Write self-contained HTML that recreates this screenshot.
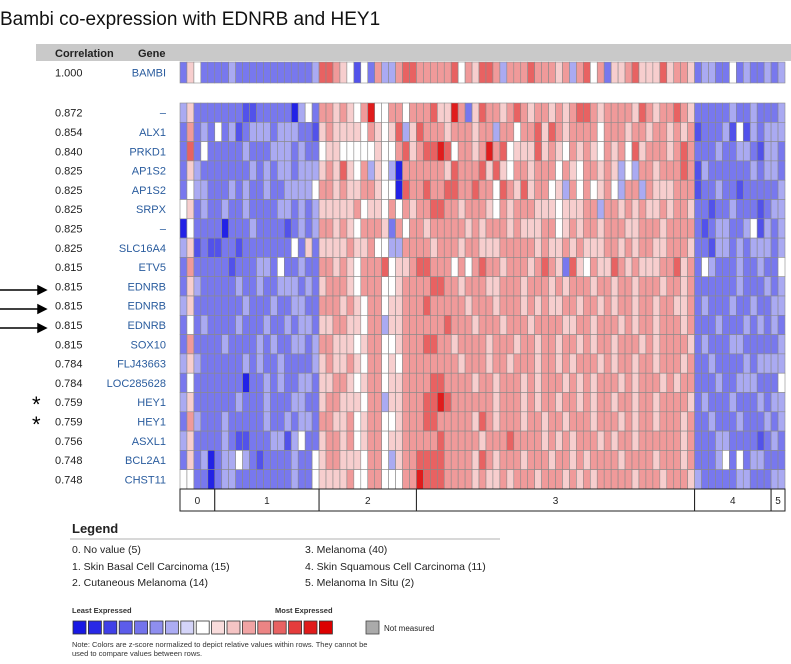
<!DOCTYPE html>
<html><head><meta charset="utf-8"><style>
body{margin:0;background:#fff;font-family:"Liberation Sans","DejaVu Sans",sans-serif}
svg text{font-family:"Liberation Sans","DejaVu Sans",sans-serif}
</style></head><body>
<svg id="c" width="791" height="659" xmlns="http://www.w3.org/2000/svg">
<text x="0" y="25" font-size="19" fill="#111">Bambi co-expression with EDNRB and HEY1</text>
<rect x="36" y="44" width="755" height="17" fill="#c9c9c9"/>
<text x="55" y="57" font-size="11" font-weight="bold" fill="#222">Correlation</text>
<text x="138" y="57" font-size="11" font-weight="bold" fill="#222">Gene</text>
<g id="heat"></g>
<g id="labels"></g>
<g id="groups"></g>
<g stroke="#000" stroke-width="1.5" fill="#000">
<line x1="0" y1="290" x2="40" y2="290"/><polygon points="46,290 38,286 38,294"/>
<line x1="0" y1="309" x2="40" y2="309"/><polygon points="46,309 38,305 38,313"/>
<line x1="0" y1="328" x2="40" y2="328"/><polygon points="46,328 38,324 38,332"/>
</g>
<text x="32" y="412" font-size="22">*</text>
<text x="32" y="432" font-size="22">*</text>
<text x="72" y="533" font-size="13" font-weight="bold" fill="#222">Legend</text>
<line x1="70" y1="539" x2="500" y2="539" stroke="#ccc" stroke-width="1.5"/>
<g font-size="10.5" fill="#222">
<text x="72" y="553">0. No value (5)</text>
<text x="72" y="570">1. Skin Basal Cell Carcinoma (15)</text>
<text x="72" y="586">2. Cutaneous Melanoma (14)</text>
<text x="305" y="553">3. Melanoma (40)</text>
<text x="305" y="570">4. Skin Squamous Cell Carcinoma (11)</text>
<text x="305" y="586">5. Melanoma In Situ (2)</text>
</g>
<text x="72" y="613" font-size="7.5" font-weight="bold" fill="#333">Least Expressed</text>
<text x="275" y="613" font-size="7.5" font-weight="bold" fill="#333">Most Expressed</text>
<g id="scale"></g>
<rect x="366" y="621" width="13" height="13" fill="#aaa" stroke="#444" stroke-width="0.8"/>
<text x="384" y="631" font-size="8" fill="#222">Not measured</text>
<text x="72" y="647" font-size="7.5" fill="#333">Note: Colors are z-score normalized to depict relative values within rows. They cannot be</text>
<text x="72" y="656" font-size="7.5" fill="#333">used to compare values between rows.</text>
</svg>
<script>
const corr=["1.000","0.872","0.854","0.840","0.825","0.825","0.825","0.825","0.825","0.815","0.815","0.815","0.815","0.815","0.784","0.784","0.759","0.759","0.756","0.748","0.748"];
const genes=["BAMBI","–","ALX1","PRKD1","AP1S2","AP1S2","SRPX","–","SLC16A4","ETV5","EDNRB","EDNRB","EDNRB","SOX10","FLJ43663","LOC285628","HEY1","HEY1","ASXL1","BCL2A1","CHST11"];
const groupNames=["0","1","2","3","4","5"];
const groupSizes=[5,15,14,40,11,2];
const values=[
"25422|223222222222223|77654142633677|66666746577636667666|56367462556755575665|23322423223|23",
"35222|222211222220342|66565468446646|66755862576656765665|65677656666576566765|22222322322|23",
"26232|423123332333221|56555546545735|76665666566366466757|65666646665665665656|12223141323|33",
"27242|222232223332322|45544444544675|67787466568674555756|54656546564756665676|22232233213|32",
"25322|222223232332333|56575463543066|66665766675754665666|46546656534366566676|13222222323|32",
"24332|223232232233334|66565566544076|67667766766476575664|53646456436636555666|12232212222|23",
"45232|232232222332323|55555645546465|66776656665465666555|45556636656565565665|22122322212|33",
"04222|202223222212323|66565466652646|65666665656665655566|45656656665566656666|21233223413|23",
"35121|122122222224252|55556556443366|66566656655566666565|56565556656566556665|22133232333|23",
"26222|221222332422322|66565466674556|77666464676656665676|52754655765655566756|24322232232|24",
"25322|222322322333232|56665466644566|66776656665566656665|65666566566566656656|22222232223|23",
"35222|222232223223322|66656546645566|67666665666566656565|56656656566566566556|23222322322|33",
"24232|222322232232332|55665546635566|66667666566656665666|65566566656566566656|22232223232|32",
"26222|232222323223323|66555456644566|67766566665666566566|56656566566656566665|23222332222|23",
"35322|222232322322223|56556546645466|66666656665665666566|56566656566566566656|22322223233|33",
"24222|222202232322332|55665456645566|66776666566566656566|65656566656566656566|22232233322|24",
"35222|222322232223322|56655546635566|67787666666566656566|56656566566566566665|23222322232|33",
"26322|232222232232332|66556456644566|67766666576566656656|65666566656566566656|22322232223|23",
"35222|232112223313422|56656456645566|66676666656667666656|56566656566566666656|22233222212|32",
"25230|233432122223224|56655546643566|77776666576566656665|66565666656666566656|22234242332|22",
"44220|233222222223224|55556446644466|87776666565565666566|65656566666566656665|32222233222|33"
];
const scaleColors=["#1818e4","#2828e6","#4040e8","#5c5cea","#7474ec","#8e8eef","#acacf3","#d4d4f8","#ffffff","#f9dcdc","#f5c4c4","#f1a4a4","#ec8484","#e86262","#e43c3c","#e01a1a","#dc0000"];
const pal=["#2222e6","#5252ea","#7878ee","#aaaaf2","#ffffff","#f7cece","#f09a9a","#e86262","#e01c1c"];
const NS="http://www.w3.org/2000/svg";
const X0=180,X1=785,nCol=groupSizes.reduce((a,b)=>a+b,0),cw=(X1-X0)/nCol;
const RH=19.3,R0=103;
function xs(i){return X0+i*cw;}
function ys(r){return r===0?62:R0+(r-1)*RH;}
function mk(tag,attrs,parent){const e=document.createElementNS(NS,tag);for(const k in attrs)e.setAttribute(k,attrs[k]);parent.appendChild(e);return e;}
const heat=document.getElementById('heat'),lab=document.getElementById('labels');
values.forEach((row,r)=>{
  const v=row.replace(/\|/g,'');
  const h=r===0?21:RH;
  for(let i=0;i<nCol;i++){
    const d=+v[i];
    const c=mk('rect',{x:xs(i).toFixed(2),y:ys(r).toFixed(2),width:cw.toFixed(2),height:h.toFixed(2),fill:pal[isNaN(d)?4:d],stroke:'#8a8a8a','stroke-width':'0.6'},heat);
    
    
  }
  const ty=ys(r)+h/2+4;
  const t1=mk('text',{x:55,y:ty.toFixed(1),'font-size':'11',fill:'#222'},lab);t1.textContent=corr[r];
  
  
  const t2=mk('text',{x:166,y:ty.toFixed(1),'font-size':'11',fill:'#2a5c9e','text-anchor':'end'},lab);t2.textContent=genes[r];
  
  
});
const g=document.getElementById('groups');const gy=ys(21);
let acc=0;
groupSizes.forEach((n,k)=>{
  const b=mk('rect',{x:xs(acc).toFixed(2),y:gy.toFixed(1),width:(n*cw).toFixed(2),height:22,fill:'#fff',stroke:'#222','stroke-width':'1'},g);
  
  
  const t=mk('text',{x:(xs(acc)+n*cw/2).toFixed(1),y:(gy+15).toFixed(1),'font-size':'10','text-anchor':'middle',fill:'#222'},g);t.textContent=groupNames[k];
  
  
  acc+=n;
});
const sc=document.getElementById('scale');
scaleColors.forEach((c,i)=>{
  const s=mk('rect',{x:(73+i*15.4).toFixed(1),y:621,width:13,height:13,fill:c,stroke:'#333','stroke-width':'0.8'},sc);
  
  
});
</script>
</body></html>
